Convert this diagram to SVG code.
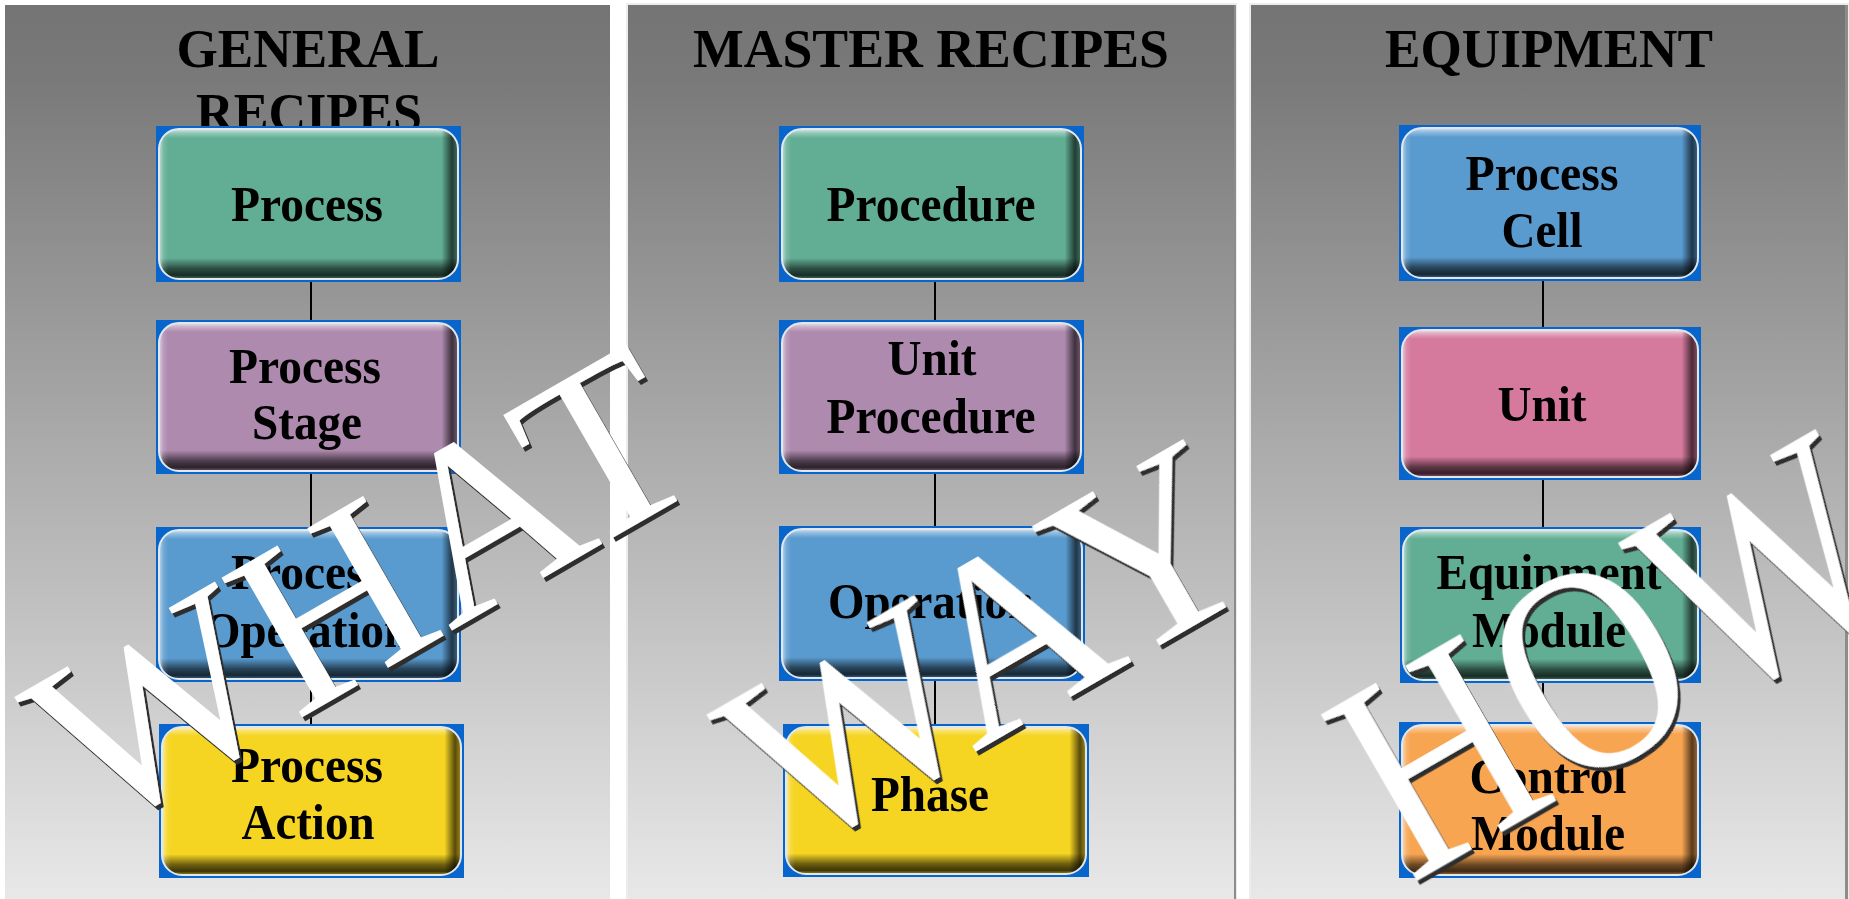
<svg xmlns="http://www.w3.org/2000/svg" width="1849" height="899" viewBox="0 0 1849 899">
  <defs>
    <linearGradient id="bg" x1="0" y1="0" x2="0" y2="1">
      <stop offset="0" stop-color="#747474"/>
      <stop offset="0.08" stop-color="#797979"/>
      <stop offset="1" stop-color="#e8e8e8"/>
    </linearGradient>
    <linearGradient id="bevelV" x1="0" y1="0" x2="0" y2="1">
      <stop offset="0" stop-color="#ffffff" stop-opacity="0.75"/>
      <stop offset="0.025" stop-color="#ffffff" stop-opacity="0.35"/>
      <stop offset="0.06" stop-color="#ffffff" stop-opacity="0"/>
      <stop offset="0.86" stop-color="#000000" stop-opacity="0"/>
      <stop offset="0.93" stop-color="#000000" stop-opacity="0.55"/>
      <stop offset="0.975" stop-color="#000000" stop-opacity="0.75"/>
      <stop offset="1" stop-color="#000000" stop-opacity="0.35"/>
    </linearGradient>
    <linearGradient id="bevelH" x1="0" y1="0" x2="1" y2="0">
      <stop offset="0" stop-color="#ffffff" stop-opacity="0.6"/>
      <stop offset="0.015" stop-color="#ffffff" stop-opacity="0.15"/>
      <stop offset="0.03" stop-color="#ffffff" stop-opacity="0"/>
      <stop offset="0.945" stop-color="#000000" stop-opacity="0"/>
      <stop offset="0.98" stop-color="#000000" stop-opacity="0.65"/>
      <stop offset="1" stop-color="#000000" stop-opacity="0.35"/>
    </linearGradient>
    <filter id="wmShadow" x="-10%" y="-10%" width="125%" height="125%">
      <feDropShadow dx="3" dy="4" stdDeviation="0.4" flood-color="#2e2e2e" flood-opacity="1"/>
    </filter>
    <style>
      .panel { fill: url(#bg); }
      .edge-lt { fill: #ececec; }
      .edge-dk { fill: #8c8c8c; }
      .title { font-family: "Liberation Serif", "Times New Roman", serif; font-weight: bold; font-size: 55px; fill: #000; text-anchor: middle; }
      .frame { fill: #0865cc; }
      .green { fill: #62ae94; }
      .purple { fill: #ae8aae; }
      .blue { fill: #5a9bcf; }
      .yellow { fill: #f5d422; }
      .pink { fill: #d67a9d; }
      .orange { fill: #f8a552; }
      .bv { fill: url(#bevelV); }
      .bh { fill: url(#bevelH); }
      .rim { fill: none; stroke: #e2e7ee; stroke-width: 2; }
      .lbl { font-family: "Liberation Serif", "Times New Roman", serif; font-weight: bold; font-size: 50px; fill: #000; text-anchor: middle; }
      .link { stroke: #000; stroke-width: 2; fill: none; }
      .wm { font-family: "Liberation Serif", "Times New Roman", serif; font-weight: normal; fill: #fff; text-anchor: middle; }
    </style>
  </defs>

  <rect width="1849" height="899" fill="#ffffff"/>

  <!-- column panels -->
  <g id="panels">
    <rect class="panel" x="5" y="5" width="605" height="894"/>
    <rect class="edge-lt" x="626" y="3" width="611" height="896"/>
    <rect class="panel" x="628" y="5" width="606" height="894"/>
    <rect class="edge-dk" x="1234" y="5" width="2" height="894"/>
    <rect class="edge-lt" x="1249" y="3" width="600" height="896"/>
    <rect class="panel" x="1251" y="5" width="594" height="894"/>
    <rect class="edge-dk" x="1845" y="5" width="3" height="894"/>
  </g>

  <!-- column headings -->
  <g id="titles">
    <text class="title" x="308" y="67" textLength="263" lengthAdjust="spacingAndGlyphs">GENERAL</text>
    <text class="title" x="309" y="131" textLength="226" lengthAdjust="spacingAndGlyphs">RECIPES</text>
    <text class="title" x="931" y="67" textLength="476" lengthAdjust="spacingAndGlyphs">MASTER RECIPES</text>
    <text class="title" x="1549" y="67" textLength="328" lengthAdjust="spacingAndGlyphs">EQUIPMENT</text>
  </g>

  <!-- hierarchy links -->
  <g id="connectors">
    <line class="link" x1="311" y1="282" x2="311" y2="320"/>
    <line class="link" x1="311" y1="474" x2="311" y2="527"/>
    <line class="link" x1="311" y1="682" x2="311" y2="724"/>
    <line class="link" x1="935" y1="282" x2="935" y2="320"/>
    <line class="link" x1="935" y1="474" x2="935" y2="526"/>
    <line class="link" x1="935" y1="681" x2="935" y2="724"/>
    <line class="link" x1="1543" y1="281" x2="1543" y2="327"/>
    <line class="link" x1="1543" y1="480" x2="1543" y2="527"/>
    <line class="link" x1="1543" y1="683" x2="1543" y2="722"/>
  </g>

  <!-- general recipe column -->
  <g id="process" transform="translate(156,126)">
    <rect class="frame" width="305" height="156"/>
    <rect class="green" x="3" y="3" width="299" height="150" rx="20"/>
    <rect class="bv" x="3" y="3" width="299" height="150" rx="20"/>
    <rect class="bh" x="3" y="3" width="299" height="150" rx="20"/>
    <rect class="rim" x="3" y="3" width="299" height="150" rx="20"/>
    <text class="lbl" x="151" y="95" textLength="152" lengthAdjust="spacingAndGlyphs">Process</text>
  </g>
  <g id="process-stage" transform="translate(156,320)">
    <rect class="frame" width="305" height="154"/>
    <rect class="purple" x="3" y="3" width="299" height="148" rx="20"/>
    <rect class="bv" x="3" y="3" width="299" height="148" rx="20"/>
    <rect class="bh" x="3" y="3" width="299" height="148" rx="20"/>
    <rect class="rim" x="3" y="3" width="299" height="148" rx="20"/>
    <text class="lbl" x="149" y="63" textLength="152" lengthAdjust="spacingAndGlyphs">Process</text>
    <text class="lbl" x="151" y="119" textLength="110" lengthAdjust="spacingAndGlyphs">Stage</text>
  </g>
  <g id="process-operation" transform="translate(156,527)">
    <rect class="frame" width="305" height="155"/>
    <rect class="blue" x="3" y="3" width="299" height="149" rx="20"/>
    <rect class="bv" x="3" y="3" width="299" height="149" rx="20"/>
    <rect class="bh" x="3" y="3" width="299" height="149" rx="20"/>
    <rect class="rim" x="3" y="3" width="299" height="149" rx="20"/>
    <text class="lbl" x="151" y="62" textLength="152" lengthAdjust="spacingAndGlyphs">Process</text>
    <text class="lbl" x="151" y="120" textLength="206" lengthAdjust="spacingAndGlyphs">Operation</text>
  </g>
  <g id="process-action" transform="translate(159,724)">
    <rect class="frame" width="305" height="154"/>
    <rect class="yellow" x="3" y="3" width="299" height="148" rx="20"/>
    <rect class="bv" x="3" y="3" width="299" height="148" rx="20"/>
    <rect class="bh" x="3" y="3" width="299" height="148" rx="20"/>
    <rect class="rim" x="3" y="3" width="299" height="148" rx="20"/>
    <text class="lbl" x="148" y="58" textLength="152" lengthAdjust="spacingAndGlyphs">Process</text>
    <text class="lbl" x="149" y="115" textLength="133" lengthAdjust="spacingAndGlyphs">Action</text>
  </g>

  <!-- master recipe column -->
  <g id="procedure" transform="translate(779,126)">
    <rect class="frame" width="305" height="156"/>
    <rect class="green" x="3" y="3" width="299" height="150" rx="20"/>
    <rect class="bv" x="3" y="3" width="299" height="150" rx="20"/>
    <rect class="bh" x="3" y="3" width="299" height="150" rx="20"/>
    <rect class="rim" x="3" y="3" width="299" height="150" rx="20"/>
    <text class="lbl" x="152" y="95" textLength="209" lengthAdjust="spacingAndGlyphs">Procedure</text>
  </g>
  <g id="unit-procedure" transform="translate(779,320)">
    <rect class="frame" width="305" height="154"/>
    <rect class="purple" x="3" y="3" width="299" height="148" rx="20"/>
    <rect class="bv" x="3" y="3" width="299" height="148" rx="20"/>
    <rect class="bh" x="3" y="3" width="299" height="148" rx="20"/>
    <rect class="rim" x="3" y="3" width="299" height="148" rx="20"/>
    <text class="lbl" x="153" y="55" textLength="89" lengthAdjust="spacingAndGlyphs">Unit</text>
    <text class="lbl" x="152" y="113" textLength="209" lengthAdjust="spacingAndGlyphs">Procedure</text>
  </g>
  <g id="operation" transform="translate(779,526)">
    <rect class="frame" width="306" height="155"/>
    <rect class="blue" x="3" y="3" width="300" height="149" rx="20"/>
    <rect class="bv" x="3" y="3" width="300" height="149" rx="20"/>
    <rect class="bh" x="3" y="3" width="300" height="149" rx="20"/>
    <rect class="rim" x="3" y="3" width="300" height="149" rx="20"/>
    <text class="lbl" x="152" y="92" textLength="206" lengthAdjust="spacingAndGlyphs">Operation</text>
  </g>
  <g id="phase" transform="translate(783,724)">
    <rect class="frame" width="306" height="153"/>
    <rect class="yellow" x="3" y="3" width="300" height="147" rx="20"/>
    <rect class="bv" x="3" y="3" width="300" height="147" rx="20"/>
    <rect class="bh" x="3" y="3" width="300" height="147" rx="20"/>
    <rect class="rim" x="3" y="3" width="300" height="147" rx="20"/>
    <text class="lbl" x="147" y="87" textLength="118" lengthAdjust="spacingAndGlyphs">Phase</text>
  </g>

  <!-- equipment column -->
  <g id="process-cell" transform="translate(1399,125)">
    <rect class="frame" width="302" height="156"/>
    <rect class="blue" x="3" y="3" width="296" height="150" rx="20"/>
    <rect class="bv" x="3" y="3" width="296" height="150" rx="20"/>
    <rect class="bh" x="3" y="3" width="296" height="150" rx="20"/>
    <rect class="rim" x="3" y="3" width="296" height="150" rx="20"/>
    <text class="lbl" x="143" y="65" textLength="153" lengthAdjust="spacingAndGlyphs">Process</text>
    <text class="lbl" x="143" y="122" textLength="81" lengthAdjust="spacingAndGlyphs">Cell</text>
  </g>
  <g id="unit" transform="translate(1399,327)">
    <rect class="frame" width="302" height="153"/>
    <rect class="pink" x="3" y="3" width="296" height="147" rx="20"/>
    <rect class="bv" x="3" y="3" width="296" height="147" rx="20"/>
    <rect class="bh" x="3" y="3" width="296" height="147" rx="20"/>
    <rect class="rim" x="3" y="3" width="296" height="147" rx="20"/>
    <text class="lbl" x="143" y="94" textLength="89" lengthAdjust="spacingAndGlyphs">Unit</text>
  </g>
  <g id="equipment-module" transform="translate(1400,527)">
    <rect class="frame" width="301" height="156"/>
    <rect class="green" x="3" y="3" width="295" height="150" rx="20"/>
    <rect class="bv" x="3" y="3" width="295" height="150" rx="20"/>
    <rect class="bh" x="3" y="3" width="295" height="150" rx="20"/>
    <rect class="rim" x="3" y="3" width="295" height="150" rx="20"/>
    <text class="lbl" x="149" y="62" textLength="225" lengthAdjust="spacingAndGlyphs">Equipment</text>
    <text class="lbl" x="149" y="120" textLength="154" lengthAdjust="spacingAndGlyphs">Module</text>
  </g>
  <g id="control-module" transform="translate(1399,722)">
    <rect class="frame" width="302" height="156"/>
    <rect class="orange" x="3" y="3" width="296" height="150" rx="20"/>
    <rect class="bv" x="3" y="3" width="296" height="150" rx="20"/>
    <rect class="bh" x="3" y="3" width="296" height="150" rx="20"/>
    <rect class="rim" x="3" y="3" width="296" height="150" rx="20"/>
    <text class="lbl" x="149" y="71" textLength="157" lengthAdjust="spacingAndGlyphs">Control</text>
    <text class="lbl" x="149" y="128" textLength="154" lengthAdjust="spacingAndGlyphs">Module</text>
  </g>

  <!-- slanted column captions -->
  <g id="captions" filter="url(#wmShadow)">
    <g transform="translate(362,589) rotate(-30)">
      <text class="wm" x="0" y="81" font-size="246">WHAT</text>
    </g>
    <g transform="translate(989,647) rotate(-30)">
      <text class="wm" x="0" y="84" font-size="255">WAY</text>
    </g>
    <g transform="translate(1613,656) rotate(-30) scale(0.95,1.15)">
      <text class="wm" x="0" y="84" font-size="255">HOW</text>
    </g>
  </g>
</svg>
